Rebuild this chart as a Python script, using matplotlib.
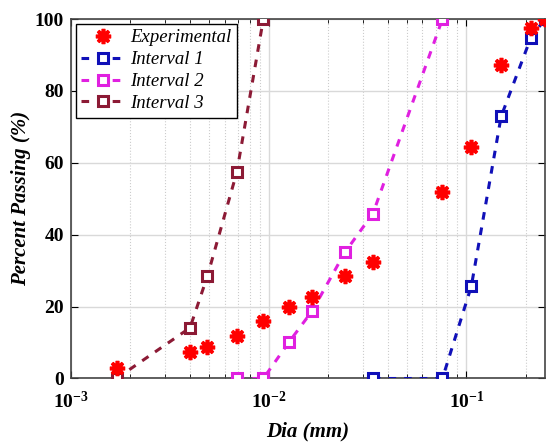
import matplotlib
matplotlib.use('Agg')
import matplotlib.pyplot as plt

# 数据
dia_exp = [0.0017, 0.0040, 0.0049, 0.0069, 0.0094, 0.0127, 0.0166, 0.0243, 0.0337,
           0.0757, 0.106, 0.150, 0.212, 0.25]
pass_exp = [2.8, 7.3, 8.8, 11.8, 16.1, 19.8, 22.7, 28.5, 32.4, 51.8, 64.5, 87.1, 97.6, 100]

dia_int1 = [0.0337, 0.0757, 0.106, 0.150, 0.212, 0.25]
pass_int1 = [0, 0, 25.7, 72.9, 94.8, 100]

dia_int2 = [0.0069, 0.0094, 0.0127, 0.0166, 0.0243, 0.0337, 0.0757]
pass_int2 = [0, 0, 10.2, 18.8, 35.1, 45.9, 100]

dia_int3 = [0.0017, 0.0040, 0.0049, 0.0069, 0.0094]
pass_int3 = [0, 14.1, 28.5, 57.4, 100]

plt.rcParams['font.family'] = ['Liberation Serif', 'DejaVu Serif']

fig = plt.figure(figsize=(5.49, 4.43), dpi=100)
ax = fig.add_axes([0.1293, 0.1456, 0.8634, 0.8114])

ax.plot(dia_exp, pass_exp, linestyle='none', marker=(8, 2, 0), markersize=11,
        markeredgewidth=2.6, color='#ff0000', label='Experimental', zorder=5)

line_kw = dict(lw=2.2, dashes=(2.5, 2.6), marker='s', markersize=6.5,
               markerfacecolor='white', markeredgewidth=2.2, zorder=4)
ax.plot(dia_int1, pass_int1, color='#1010b8', label='Interval 1', **line_kw)
ax.plot(dia_int2, pass_int2, color='#e020e0', label='Interval 2', **line_kw)
ax.plot(dia_int3, pass_int3, color='#8c1a35', label='Interval 3', **line_kw)

ax.set_xscale('log')
ax.set_xlim(1e-3, 0.25)
ax.set_ylim(0, 100)
ax.set_yticks([0, 20, 40, 60, 80, 100])

ax.grid(True, which='major', color='#d9d9d9', lw=1)
ax.grid(True, which='minor', axis='x', color='#cccccc', lw=0.8, linestyle=':')
ax.set_axisbelow(True)

ax.tick_params(which='both', direction='in', top=True, right=True, labelsize=14)
ax.tick_params(which='major', length=5)
ax.tick_params(which='minor', length=3)
ax.tick_params(axis='x', pad=9)
ax.tick_params(axis='y', pad=5)
for lab in ax.get_xticklabels() + ax.get_yticklabels():
    lab.set_fontweight('bold')

for s in ax.spines.values():
    s.set_color('#444444')
    s.set_linewidth(1.2)

ax.set_xlabel('Dia (mm)', fontsize=15, fontweight='bold', fontstyle='italic', labelpad=7)
ax.set_ylabel('Percent Passing (%)', fontsize=15, fontweight='bold', fontstyle='italic', labelpad=3)

leg = ax.legend(loc='upper left', prop={'size': 13.5, 'style': 'italic'}, fancybox=False,
                edgecolor='black', framealpha=1, handlelength=2.3, borderpad=0.3,
                labelspacing=0.25, handletextpad=0.3, borderaxespad=0.25)
leg.get_frame().set_linewidth(1.0)

fig.savefig('out.png', dpi=100)
